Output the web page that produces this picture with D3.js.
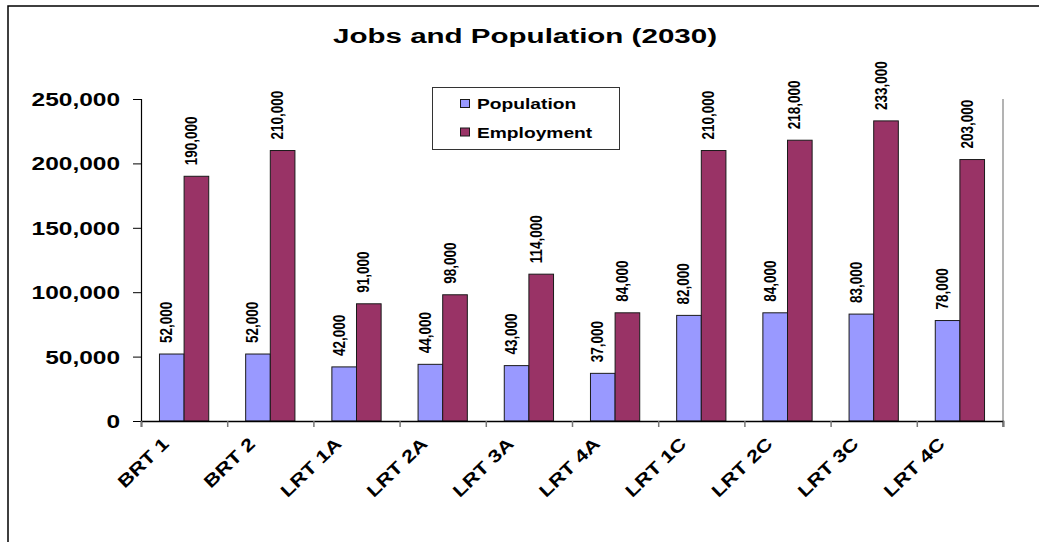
<!DOCTYPE html>
<html>
<head>
<meta charset="utf-8">
<script src="https://cdn.jsdelivr.net/npm/d3@7"></script>
<style>
  html, body { margin: 0; padding: 0; background: #fff; }
  svg { display: block; }
  text { font-family: Arial, "Liberation Sans", sans-serif; font-weight: bold; fill: #000; }
</style>
</head>
<body>
<script>
// ---- data ----
const categories = ["BRT 1", "BRT 2", "LRT 1A", "LRT 2A", "LRT 3A", "LRT 4A", "LRT 1C", "LRT 2C", "LRT 3C", "LRT 4C"];
const seriesNames = ["Population", "Employment"];
const population = [52000, 52000, 42000, 44000, 43000, 37000, 82000, 84000, 83000, 78000];
const employment = [190000, 210000, 91000, 98000, 114000, 84000, 210000, 218000, 233000, 203000];
const yTickValues = [0, 50000, 100000, 150000, 200000, 250000];
const titleText = "Jobs and Population (2030)";

// ---- style / layout ----
const W = 1039, H = 542;
const plot = { left: 141, right: 1003, top: 99, bottom: 421 };
const colors = { Population: "#9999FF", Employment: "#993366" };

const svg = d3.select("body").append("svg").attr("width", W).attr("height", H);

// outer frame (top and left edges visible)
svg.append("path").attr("d", `M8,${H} L8,6 L${W},6`).attr("fill", "none").attr("stroke", "#000").attr("stroke-width", 1.5);

// title
svg.append("text").attr("x", 525).attr("y", 43).attr("text-anchor", "middle")
  .attr("font-size", 20).attr("textLength", 384).attr("lengthAdjust", "spacingAndGlyphs")
  .text(titleText);

// scales
const x0 = d3.scaleBand().domain(categories).range([plot.left, plot.right]).paddingInner(0).paddingOuter(0);
const bw = x0.bandwidth() / 3.5;
const x1 = d3.scaleBand().domain(seriesNames).range([bw * 0.75, bw * 2.75]).padding(0);
const y = d3.scaleLinear().domain([0, 250000]).range([plot.bottom, plot.top]);
const xEdges = d3.scaleLinear().domain([0, categories.length]).range([plot.left, plot.right]);

// right plot-area border (grey)
svg.append("line").attr("x1", plot.right).attr("x2", plot.right).attr("y1", plot.top).attr("y2", plot.bottom + 6)
  .attr("stroke", "#9a9a9a").attr("stroke-width", 1.5);

// data rows
const rows = categories.map((c, i) => ({ cat: c, values: [
  { key: "Population", value: population[i] },
  { key: "Employment", value: employment[i] } ] }));

const groups = svg.append("g").selectAll("g").data(rows).join("g")
  .attr("transform", d => `translate(${x0(d.cat)},0)`);

groups.selectAll("rect").data(d => d.values).join("rect")
  .attr("x", d => x1(d.key))
  .attr("y", d => y(d.value))
  .attr("width", x1.bandwidth())
  .attr("height", d => y(0) - y(d.value))
  .attr("fill", d => colors[d.key])
  .attr("stroke", "#1a1a1a").attr("stroke-width", 1);

// data labels (rotated)
const fmt = d3.format(",");
groups.selectAll("text.lbl").data(d => d.values).join("text").attr("class", "lbl")
  .attr("transform", d => `translate(${x1(d.key) + x1.bandwidth() / 2 + 0.5},${y(d.value) - 11}) rotate(-90) scale(0.93,1.15)`)
  .attr("text-anchor", "start")
  .attr("font-size", 14.5)
  .text(d => fmt(d.value));

// y axis
const yAxis = svg.append("g").attr("transform", `translate(${plot.left},0)`)
  .call(d3.axisLeft(y).tickValues(yTickValues).tickSize(8).tickPadding(13).tickFormat(fmt));
yAxis.select(".domain").attr("stroke", "#000").attr("stroke-width", 1.2);
yAxis.selectAll(".tick line").attr("stroke", "#000").attr("stroke-width", 1);
yAxis.selectAll(".tick text")
  .attr("font-size", 18).attr("font-family", "Arial, 'Liberation Sans', sans-serif").attr("font-weight", "bold")
  .each(function () {
    const t = d3.select(this);
    const xx = +t.attr("x");
    t.attr("x", 0).attr("dy", "0.36em").attr("transform", `translate(${xx},0) scale(1.36,1)`);
  });

// x axis (ticks at category edges)
const xAxis = svg.append("g").attr("transform", `translate(0,${plot.bottom})`)
  .call(d3.axisBottom(xEdges).tickValues(d3.range(categories.length + 1)).tickSize(6).tickFormat(""));
xAxis.select(".domain").attr("stroke", "#000").attr("stroke-width", 1.5);
xAxis.selectAll(".tick line").attr("stroke", "#777").attr("stroke-width", 1.5);

// category labels
svg.append("g").selectAll("text").data(categories).join("text")
  .attr("transform", d => `translate(${x0(d) + x0.bandwidth() / 2 - 14},${plot.bottom + 24}) rotate(-44) scale(1.25,1)`)
  .attr("text-anchor", "end")
  .attr("font-size", 17.5)
  .text(d => d);

// legend
const legend = svg.append("g");
legend.append("rect").attr("x", 432.5).attr("y", 87.5).attr("width", 187).attr("height", 62)
  .attr("fill", "#fff").attr("stroke", "#333").attr("stroke-width", 1);
const legendY = d3.scalePoint().domain(seriesNames).range([103.5, 132]);
const li = legend.selectAll("g").data(seriesNames).join("g")
  .attr("transform", d => `translate(0,${legendY(d)})`);
li.append("rect").attr("x", 460.5).attr("y", -4).attr("width", 9).attr("height", 8)
  .attr("fill", d => colors[d]).attr("stroke", "#1a1a1a").attr("stroke-width", 1);
li.append("text").attr("transform", "translate(477,5.5) scale(1.24,1)").attr("font-size", 15.5).text(d => d);
</script>
</body>
</html>
